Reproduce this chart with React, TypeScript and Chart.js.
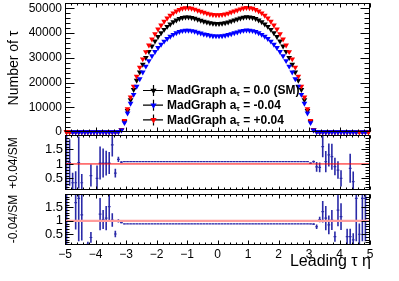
import React, { useEffect, useRef } from "react";
import { Chart, registerables } from "chart.js";
Chart.register(...registerables);

const FONT = "'Liberation Sans', Arial, Helvetica, sans-serif";

// bin centres of leading tau eta (100 bins from -5 to 5)
const etaBins: number[] = [
  -4.95, -4.85, -4.75, -4.65, -4.55, -4.45, -4.35, -4.25, -4.15, -4.05,
  -3.95, -3.85, -3.75, -3.65, -3.55, -3.45, -3.35, -3.25, -3.15, -3.05,
  -2.95, -2.85, -2.75, -2.65, -2.55, -2.45, -2.35, -2.25, -2.15, -2.05,
  -1.95, -1.85, -1.75, -1.65, -1.55, -1.45, -1.35, -1.25, -1.15, -1.05,
  -0.95, -0.85, -0.75, -0.65, -0.55, -0.45, -0.35, -0.25, -0.15, -0.05,
  0.05, 0.15, 0.25, 0.35, 0.45, 0.55, 0.65, 0.75, 0.85, 0.95,
  1.05, 1.15, 1.25, 1.35, 1.45, 1.55, 1.65, 1.75, 1.85, 1.95,
  2.05, 2.15, 2.25, 2.35, 2.45, 2.55, 2.65, 2.75, 2.85, 2.95,
  3.05, 3.15, 3.25, 3.35, 3.45, 3.55, 3.65, 3.75, 3.85, 3.95,
  4.05, 4.15, 4.25, 4.35, 4.45, 4.55, 4.65, 4.75, 4.85, 4.95,
];

// MadGraph a_tau = 0.0 (SM)
const nSM: (number | null)[] = [
  14, 9, 11, 8, 10, 7, 9, 12, 8, 10,
  13, 11, 15, 18, 24, 33, 58, 170, 800, 4200,
  8600, 13000, 17100, 20800, 24200, 27300, 30000, 32500, 34700, 36700,
  38500, 40000, 41400, 42600, 43600, 44500, 45200, 45800, 46200, 46400,
  46400, 46200, 45900, 45500, 45100, 44700, 44400, 44100, 43900, 43800,
  43800, 43900, 44100, 44400, 44800, 45200, 45600, 46000, 46300, 46500,
  46400, 46200, 45800, 45200, 44500, 43600, 42600, 41400, 40000, 38500,
  36700, 34700, 32500, 30000, 27300, 24200, 20800, 17100, 13000, 8600,
  4200, 800, 165, 62, 31, 22, 17, 14, 12, 10,
  11, 8, 9, 7, 10, 8, 9, 11, 7, 12,
];

// MadGraph a_tau = -0.04
const nMinus: (number | null)[] = [
  null, null, 10, 7, 9, 6, 8, 11, 7, 9,
  12, 10, 13, 16, 21, 29, 51, 150, 710, 3720,
  7610, 11510, 15130, 18410, 21420, 24160, 26550, 28760, 30710, 32480,
  34070, 35400, 36640, 37700, 38590, 39380, 40000, 40530, 40890, 41060,
  41060, 40890, 40620, 40270, 39910, 39560, 39290, 39030, 38850, 38760,
  38760, 38850, 39030, 39290, 39650, 40000, 40360, 40710, 40980, 41150,
  41060, 40890, 40530, 40000, 39380, 38590, 37700, 36640, 35400, 34070,
  32480, 30710, 28760, 26550, 24160, 21420, 18410, 15130, 11510, 7610,
  3720, 710, 146, 55, 27, 19, 15, 12, 11, 9,
  10, 7, 8, 6, 9, 7, null, 8, 6, null,
];

// MadGraph a_tau = +0.04
const nPlus: (number | null)[] = [
  16, 10, 12, 9, 11, 8, 10, 13, 9, 11,
  14, 12, 16, 20, 26, 36, 62, 185, 860, 4540,
  9290, 14040, 18470, 22460, 26140, 29480, 32400, 35100, 37480, 39640,
  41580, 43200, 44710, 46010, 47090, 48060, 48820, 49460, 49900, 50110,
  50110, 49900, 49570, 49140, 48710, 48280, 47950, 47630, 47410, 47300,
  47300, 47410, 47630, 47950, 48380, 48820, 49250, 49680, 50000, 50220,
  50110, 49900, 49460, 48820, 48060, 47090, 46010, 44710, 43200, 41580,
  39640, 37480, 35100, 32400, 29480, 26140, 22460, 18470, 14040, 9290,
  4540, 860, 178, 66, 33, 24, 19, 15, 13, 11,
  12, 9, 10, 8, 11, 9, 10, 12, 8, 13,
];

// ratio +0.04 / SM
const ratioPlus: (number | null)[] = [
  1.0, 1.05, 0.35, 0.35, 1.05, 0.35, null, null, 0.6, null,
  0.5, 1.03, 1.03, 1.03, 1.03, 1.66, 0.68, 1.16, 1.06, 1.08,
  1.08, 1.08, 1.08, 1.08, 1.08, 1.08, 1.08, 1.08, 1.08, 1.08,
  1.08, 1.08, 1.08, 1.08, 1.08, 1.08, 1.08, 1.08, 1.08, 1.08,
  1.08, 1.08, 1.08, 1.08, 1.08, 1.08, 1.08, 1.08, 1.08, 1.08,
  1.08, 1.08, 1.08, 1.08, 1.08, 1.08, 1.08, 1.08, 1.08, 1.08,
  1.08, 1.08, 1.08, 1.08, 1.08, 1.08, 1.08, 1.08, 1.08, 1.08,
  1.08, 1.08, 1.08, 1.08, 1.08, 1.08, 1.08, 1.08, 1.08, 1.08,
  1.03, 1.08, 0.9, 0.88, 1.6, 1.08, 1.31, 1.25, 0.91, 0.79,
  0.5, null, null, 0.85, 0.39, null, null, null, null, null,
];
const ratioPlusErr: (number | null)[] = [
  1.5, 0.8, 0.35, 0.4, 0.9, 0.3, null, null, 0.38, null,
  0.45, 0.57, 0.5, 0.43, 0.38, 0.4, 0.15, 0.09, 0.03, 0.01,
  0.006, 0.006, 0.006, 0.006, 0.006, 0.006, 0.006, 0.006, 0.006, 0.006,
  0.006, 0.006, 0.006, 0.006, 0.006, 0.006, 0.006, 0.006, 0.006, 0.006,
  0.006, 0.006, 0.006, 0.006, 0.006, 0.006, 0.006, 0.006, 0.006, 0.006,
  0.006, 0.006, 0.006, 0.006, 0.006, 0.006, 0.006, 0.006, 0.006, 0.006,
  0.006, 0.006, 0.006, 0.006, 0.006, 0.006, 0.006, 0.006, 0.006, 0.006,
  0.006, 0.006, 0.006, 0.006, 0.006, 0.006, 0.006, 0.006, 0.006, 0.01,
  0.02, 0.04, 0.17, 0.17, 0.37, 0.37, 0.4, 0.45, 0.3, 0.3,
  0.28, null, null, 0.5, 0.35, null, null, null, null, null,
];

// ratio -0.04 / SM
const ratioMinus: (number | null)[] = [
  1.0, null, null, 1.68, 1.84, 1.22, null, 0.12, 0.38, null,
  null, 1.25, 1.05, 1.1, 1.53, 1.03, 0.51, 1.0, 0.93, 0.885,
  0.885, 0.885, 0.885, 0.885, 0.885, 0.885, 0.885, 0.885, 0.885, 0.885,
  0.885, 0.885, 0.885, 0.885, 0.885, 0.885, 0.885, 0.885, 0.885, 0.885,
  0.885, 0.885, 0.885, 0.885, 0.885, 0.885, 0.885, 0.885, 0.885, 0.885,
  0.885, 0.885, 0.885, 0.885, 0.885, 0.885, 0.885, 0.885, 0.885, 0.885,
  0.885, 0.885, 0.885, 0.885, 0.885, 0.885, 0.885, 0.885, 0.885, 0.885,
  0.885, 0.885, 0.885, 0.885, 0.885, 0.885, 0.885, 0.885, 0.885, 0.885,
  0.885, 0.88, 0.78, 1.05, 1.34, 1.1, 0.85, 1.03, 0.41, 1.4,
  1.16, null, 0.41, 0.41, 0.29, 1.84, 0.5, 1.84, 1.84, null,
];
const ratioMinusErr: (number | null)[] = [
  1.5, null, null, 1.0, 1.6, 0.95, null, 0.1, 0.2, null,
  null, 0.6, 0.35, 0.45, 0.5, 0.25, 0.12, 0.06, 0.02, 0.01,
  0.006, 0.006, 0.006, 0.006, 0.006, 0.006, 0.006, 0.006, 0.006, 0.006,
  0.006, 0.006, 0.006, 0.006, 0.006, 0.006, 0.006, 0.006, 0.006, 0.006,
  0.006, 0.006, 0.006, 0.006, 0.006, 0.006, 0.006, 0.006, 0.006, 0.006,
  0.006, 0.006, 0.006, 0.006, 0.006, 0.006, 0.006, 0.006, 0.006, 0.006,
  0.006, 0.006, 0.006, 0.006, 0.006, 0.006, 0.006, 0.006, 0.006, 0.006,
  0.006, 0.006, 0.006, 0.006, 0.006, 0.006, 0.006, 0.006, 0.006, 0.006,
  0.01, 0.03, 0.08, 0.1, 0.4, 0.45, 0.35, 0.37, 0.19, 0.6,
  0.5, null, 0.3, 0.3, 0.25, 1.6, 0.4, 1.6, 1.6, null,
];

const xTickValues: number[] = [-5, -4, -3, -2, -1, 0, 1, 2, 3, 4, 5];
const mainYTickValues: number[] = [0, 10000, 20000, 30000, 40000, 50000];
const ratioYTickValues: number[] = [0.5, 1, 1.5];

const seriesLabels = [
  { pre: "MadGraph a", sub: "τ", post: " = 0.0 (SM)", color: "#000000" },
  { pre: "MadGraph a", sub: "τ", post: " = -0.04", color: "#0000ff" },
  { pre: "MadGraph a", sub: "τ", post: " = +0.04", color: "#ff0000" },
];

const RATIO_COLOR = "#2a2aa8";

function steps(a: number, b: number, s: number): number[] {
  const out: number[] = [];
  const n = Math.round((b - a) / s);
  for (let i = 0; i <= n; i++) out.push(+(a + i * s).toFixed(6));
  return out;
}

const framePlugin = {
  id: "rootFrame",
  afterDatasetsDraw(chart: any, _args: any, o: any) {
    const { ctx, chartArea: a } = chart;
    const xs = chart.scales.x;
    const ys = chart.scales.y;
    const L = Math.round(a.left) + 0.5;
    const R = Math.round(a.right) - 0.5;
    const T = Math.round(a.top) + 0.5;
    const B = Math.round(a.bottom) - 0.5;
    ctx.save();
    ctx.strokeStyle = "#000";
    ctx.lineWidth = 1;
    ctx.beginPath();
    const yt = (vals: number[], len: number) => {
      for (const v of vals) {
        const p = Math.round(ys.getPixelForValue(v)) + 0.5;
        if (p < T - 0.1 || p > B + 0.1) continue;
        ctx.moveTo(L, p); ctx.lineTo(L + len, p);
        ctx.moveTo(R, p); ctx.lineTo(R - len, p);
      }
    };
    const xt = (vals: number[], len: number) => {
      for (const v of vals) {
        const p = Math.round(xs.getPixelForValue(v)) + 0.5;
        ctx.moveTo(p, B); ctx.lineTo(p, B - len);
        ctx.moveTo(p, T); ctx.lineTo(p, T + len);
      }
    };
    yt(o.yMinor, o.yMinLen);
    yt(o.yMajor, o.yMajLen);
    xt(o.xMinor, o.xMinLen);
    xt(o.xMajor, o.xMajLen);
    ctx.stroke();
    ctx.strokeRect(L, T, R - L, B - T);
    ctx.restore();
  },
};

const textPlugin = {
  id: "rootTexts",
  afterDraw(chart: any, _args: any, o: any) {
    const ctx = chart.ctx;
    for (const t of o.items || []) {
      ctx.save();
      ctx.font = t.font;
      ctx.fillStyle = "#000";
      ctx.textAlign = t.align || "center";
      ctx.textBaseline = "middle";
      ctx.translate(t.x, t.y);
      if (t.rot) ctx.rotate(t.rot);
      ctx.fillText(t.text, 0, 0);
      ctx.restore();
    }
  },
};

function drawDownTriangle(ctx: CanvasRenderingContext2D, x: number, y: number, r: number, color: string) {
  ctx.beginPath();
  for (let k = 0; k < 3; k++) {
    const ang = Math.PI + (k * 2 * Math.PI) / 3;
    const px = x + Math.sin(ang) * r;
    const py = y - Math.cos(ang) * r;
    if (k === 0) ctx.moveTo(px, py); else ctx.lineTo(px, py);
  }
  ctx.closePath();
  ctx.fillStyle = color;
  ctx.fill();
}

const legendPlugin = {
  id: "rootLegend",
  afterDraw(chart: any, _args: any, o: any) {
    if (!o.rows) return;
    const ctx = chart.ctx;
    o.rows.forEach((r: any, i: number) => {
      const y = o.y0 + i * o.dy;
      ctx.save();
      ctx.strokeStyle = "#000";
      ctx.lineWidth = 1.2;
      ctx.beginPath();
      ctx.moveTo(o.x0, y + 0.5); ctx.lineTo(o.x1, y + 0.5);
      ctx.moveTo(o.mx + 0.5, y - 5); ctx.lineTo(o.mx + 0.5, y + 6);
      ctx.stroke();
      drawDownTriangle(ctx, o.mx + 0.5, y + 0.5, 3.6, r.color);
      ctx.fillStyle = "#000";
      ctx.textBaseline = "middle";
      ctx.textAlign = "left";
      let x = o.tx;
      ctx.font = `bold 12px ${FONT}`;
      ctx.fillText(r.pre, x, y + 1);
      x += ctx.measureText(r.pre).width;
      ctx.font = `bold 8px ${FONT}`;
      ctx.fillText(r.sub, x, y + 4);
      x += ctx.measureText(r.sub).width;
      ctx.font = `bold 12px ${FONT}`;
      ctx.fillText(r.post, x, y + 1);
      ctx.restore();
    });
  },
};

function pts(vals: (number | null)[]) {
  return etaBins.map((x, i) => ({ x, y: vals[i] }));
}

function hSegments(vals: (number | null)[], half: number) {
  const out: any[] = [];
  etaBins.forEach((x, i) => {
    const v = vals[i];
    if (v == null) return;
    out.push({ x: x - half, y: v }, { x: x + half, y: v }, { x: x + half, y: null });
  });
  return out;
}

function vSegments(vals: (number | null)[], errs: (number | null)[]) {
  const out: any[] = [];
  etaBins.forEach((x, i) => {
    const v = vals[i];
    const e = errs[i];
    if (v == null || e == null) return;
    out.push({ x, y: v - e }, { x, y: v + e }, { x, y: null });
  });
  return out;
}

function markerSet(data: (number | null)[], color: string, order: number) {
  return {
    data: pts(data),
    showLine: false,
    pointStyle: "triangle",
    rotation: 180,
    pointRadius: 3.3,
    pointHoverRadius: 3.3,
    pointBorderWidth: 0,
    backgroundColor: color,
    borderColor: color,
    clip: false,
    order,
  };
}

function fixedTicks(values: number[]) {
  return (scale: any) => {
    scale.ticks = values.map((v) => ({ value: v }));
  };
}

function fitY(scale: any) {
  scale.width = 65;
  scale.paddingTop = 0;
  scale.paddingBottom = 0;
}

function mainConfig(): any {
  return {
    type: "line",
    data: {
      datasets: [
        markerSet(nSM, "#000000", 3),
        markerSet(nPlus, "#ff0000", 2),
        markerSet(nMinus, "#0000ff", 1),
      ],
    },
    options: {
      animation: false,
      responsive: false,
      maintainAspectRatio: false,
      events: [],
      layout: { padding: { left: 0, right: 29, top: 2, bottom: 4 } },
      plugins: {
        legend: { display: false },
        tooltip: { enabled: false },
        rootFrame: {
          yMajor: mainYTickValues,
          yMinor: steps(0, 52000, 2000),
          xMajor: xTickValues,
          xMinor: steps(-5, 5, 0.2),
          yMajLen: 9, yMinLen: 5, xMajLen: 4, xMinLen: 2,
        },
        rootTexts: {
          items: [{ text: "Number of τ", x: 14, y: 68, rot: -Math.PI / 2, font: `14px ${FONT}` }],
        },
        rootLegend: {
          rows: seriesLabels, y0: 90, dy: 14.7, x0: 143, x1: 163, mx: 153, tx: 167,
        },
      },
      scales: {
        x: { type: "linear", min: -5, max: 5, display: false },
        y: {
          type: "linear", min: 0, max: 52000,
          grid: { display: false, drawTicks: false },
          border: { display: false },
          afterBuildTicks: fixedTicks(mainYTickValues),
          afterFit: fitY,
          ticks: {
            color: "#000", padding: 3,
            font: { family: FONT, size: 12 },
            callback: (v: any) => String(v),
          },
        },
      },
    },
    plugins: [framePlugin, textPlugin, legendPlugin],
  };
}

function ratioConfig(vals: (number | null)[], errs: (number | null)[], refColor: string, refWidth: number,
  title: string, titleY: number, bottom: boolean, padTop: number, padBottom: number): any {
  return {
    type: "line",
    data: {
      datasets: [
        {
          data: [{ x: -5, y: 1 }, { x: 5, y: 1 }],
          borderColor: refColor, borderWidth: refWidth, pointRadius: 0, order: 1,
        },
        {
          data: hSegments(vals, 0.045),
          borderColor: RATIO_COLOR, borderWidth: 1.2, pointRadius: 0, spanGaps: false, order: 2,
        },
        {
          data: vSegments(vals, errs),
          borderColor: RATIO_COLOR, borderWidth: 1.6, pointRadius: 0, spanGaps: false, order: 2,
        },
      ],
    },
    options: {
      animation: false,
      responsive: false,
      maintainAspectRatio: false,
      events: [],
      layout: { padding: { left: 0, right: 29, top: padTop, bottom: bottom ? 0 : padBottom } },
      plugins: {
        legend: { display: false },
        tooltip: { enabled: false },
        rootFrame: {
          yMajor: ratioYTickValues,
          yMinor: steps(0.1, 2.0, 0.1),
          xMajor: xTickValues,
          xMinor: steps(-5, 5, 0.2),
          yMajLen: 8, yMinLen: 4, xMajLen: bottom ? 4 : 3, xMinLen: 2,
        },
        rootTexts: {
          items: [
            { text: title, x: 14, y: titleY, rot: -Math.PI / 2, font: `12px ${FONT}` },
            ...(bottom ? [{ text: "Leading τ η", x: 371, y: 70, align: "right", font: `16px ${FONT}` }] : []),
          ],
        },
      },
      scales: {
        x: bottom
          ? {
              type: "linear", min: -5, max: 5,
              grid: { display: false, drawTicks: false },
              border: { display: false },
              afterBuildTicks: fixedTicks(xTickValues),
              afterFit: (s: any) => { s.height = padBottom; s.paddingLeft = 0; s.paddingRight = 0; },
              ticks: {
                color: "#000", padding: 2, maxRotation: 0, autoSkip: false,
                font: { family: FONT, size: 12 },
                callback: (v: any) => (v < 0 ? "\u2212" + Math.abs(v) : String(v)),
              },
            }
          : { type: "linear", min: -5, max: 5, display: false },
        y: {
          type: "linear", min: 0.1, max: 2.0,
          grid: { display: false, drawTicks: false },
          border: { display: false },
          afterBuildTicks: fixedTicks(ratioYTickValues),
          afterFit: fitY,
          ticks: {
            color: "#000", padding: 2,
            font: { family: FONT, size: 13 },
            callback: (v: any) => String(v),
          },
        },
      },
    },
    plugins: [framePlugin, textPlugin],
  };
}

export default function App() {
  const r1 = useRef<HTMLCanvasElement>(null);
  const r2 = useRef<HTMLCanvasElement>(null);
  const r3 = useRef<HTMLCanvasElement>(null);
  useEffect(() => {
    const c1 = new Chart(r1.current!, mainConfig());
    const c2 = new Chart(r2.current!, ratioConfig(ratioPlus, ratioPlusErr, "#ff0000", 1, "+0.04/SM", 31, false, 3, 2));
    const c3 = new Chart(r3.current!, ratioConfig(ratioMinus, ratioMinusErr, "#ff9c9c", 2.2, "-0.04/SM", 27, true, 2, 36));
    return () => { c1.destroy(); c2.destroy(); c3.destroy(); };
  }, []);
  const cs = (top: number, h: number): React.CSSProperties => ({ position: "absolute", left: 0, top, width: 399, height: h });
  return (
    <div style={{ position: "fixed", left: 0, top: 0, width: 399, height: 281, background: "#fff" }}>
      <canvas ref={r1} width={399} height={136} style={cs(0, 136)} />
      <canvas ref={r2} width={399} height={60} style={cs(132, 60)} />
      <canvas ref={r3} width={399} height={89} style={cs(192, 89)} />
    </div>
  );
}
